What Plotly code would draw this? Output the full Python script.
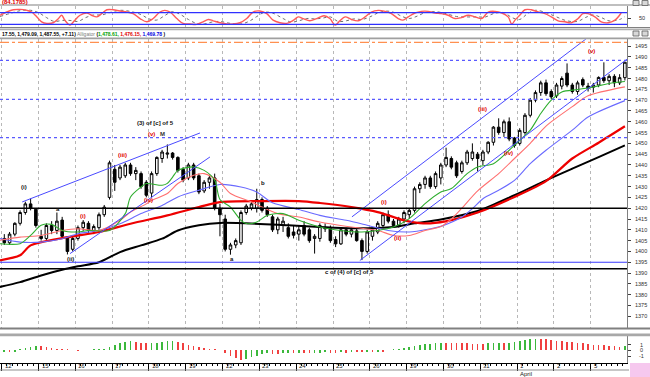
import plotly.graph_objects as go

W, H = 650, 377
PLOT_R = 627  # right edge of plotting area in px

def py(y):
    return 1 - y / H

# ---------------- data ----------------
day_labels = ["12", "15", "16", "17", "18", "19", "22", "23", "24", "25", "26",
              "29", "30", "31", "1", "2", "5"]
month_label = "April"
BARS_PER_DAY = 7

opens = [1406, 1404, 1408, 1413, 1418, 1422, 1419.5,
         1407, 1406, 1412, 1409.7, 1414.5, 1406.5, 1401,
         1406, 1411, 1413, 1409.5, 1411, 1417, 1425,
         1438, 1434, 1435, 1440, 1436, 1436, 1432,
         1427, 1436, 1443, 1445, 1445.5, 1443.5, 1438,
         1434, 1440, 1435, 1428, 1432, 1434, 1420,
         1415, 1401, 1403, 1404, 1418, 1420, 1420,
         1424, 1420, 1416, 1410, 1412, 1411, 1409,
         1408, 1412, 1410, 1406, 1406, 1411, 1411,
         1405.5, 1403.5, 1410, 1408, 1409.5, 1405, 1400,
         1407, 1409, 1412, 1417, 1414, 1412, 1415,
         1417, 1419, 1429, 1431, 1434, 1430, 1434,
         1440, 1443, 1441, 1437, 1441, 1443, 1445,
         1442, 1446, 1450.5, 1457.5, 1455, 1460, 1452.5,
         1450, 1455, 1463, 1470, 1473.5, 1478, 1474,
         1472, 1476.5, 1482.5, 1477, 1474, 1479.5, 1476.5,
         1476, 1477, 1480.5, 1479, 1481, 1478, 1480.4]
highs = [1408, 1409, 1413.5, 1419, 1423, 1424.5, 1420,
         1410, 1413, 1414, 1418, 1416, 1407, 1407,
         1412, 1414.5, 1414, 1412.5, 1418, 1421.5, 1442,
         1440, 1440, 1441, 1441, 1439, 1437, 1433,
         1437, 1444, 1447, 1449.5, 1446, 1444, 1439,
         1441, 1441, 1436, 1433, 1435.5, 1436, 1422,
         1417, 1404, 1406, 1419, 1422, 1423, 1429,
         1425, 1421, 1417, 1416, 1416, 1413, 1412,
         1412, 1414, 1411, 1408, 1413, 1413, 1412,
         1407, 1411, 1411, 1411, 1410.5, 1406, 1410,
         1411, 1414, 1418, 1419, 1415, 1416, 1419,
         1420, 1430, 1432, 1435, 1435, 1437, 1441,
         1448, 1444, 1442, 1442, 1447, 1450, 1446,
         1447, 1451, 1458, 1461.6, 1461, 1462, 1453,
         1457, 1464, 1471, 1474.5, 1479, 1479.5, 1475,
         1478, 1481, 1487, 1478, 1479, 1480.5, 1478,
         1478, 1481, 1487.5, 1482, 1482, 1482, 1487.6]
lows = [1403, 1403, 1407, 1412, 1417, 1419, 1411,
        1405, 1405, 1408, 1408, 1406.5, 1398.6, 1400,
        1405, 1409.5, 1408.5, 1408, 1410, 1416, 1424,
        1428, 1433, 1434, 1435, 1433, 1429, 1425,
        1425, 1435, 1441, 1443, 1442.5, 1436.5, 1432,
        1433, 1433, 1426.5, 1427, 1429, 1419, 1407,
        1400, 1398.5, 1401.5, 1403, 1417, 1419, 1418,
        1418, 1416, 1409, 1408, 1409, 1406, 1406,
        1405, 1407, 1404, 1399, 1404.5, 1409, 1404,
        1402, 1403, 1407, 1406.5, 1404.5, 1396, 1399,
        1405, 1408, 1411, 1413, 1411, 1411, 1413,
        1415, 1418, 1427, 1429, 1429, 1429, 1431,
        1439, 1438, 1434, 1436, 1440, 1442, 1437,
        1440, 1445, 1449, 1454, 1453, 1451, 1448,
        1449, 1454, 1462, 1469, 1472, 1472, 1470.5,
        1471, 1475, 1476, 1473, 1472.5, 1476, 1474,
        1473.5, 1476, 1478, 1477, 1476, 1477, 1479.1]
closes = [1404, 1408, 1413, 1418, 1422, 1420, 1412,
          1406, 1412, 1409.7, 1414, 1407, 1400, 1406,
          1411, 1413.5, 1409.7, 1411.5, 1417, 1420.5, 1441,
          1432, 1439, 1440, 1436, 1437.5, 1430, 1426,
          1436, 1443.5, 1446, 1445.5, 1443.5, 1437.5, 1433,
          1440, 1434, 1427.5, 1432, 1434, 1420, 1417,
          1401, 1403, 1405, 1418, 1421, 1422, 1424,
          1419, 1417, 1410, 1415, 1414, 1407, 1407.5,
          1410, 1408, 1405, 1407, 1412, 1410.5, 1405,
          1403.5, 1410, 1408, 1410, 1405, 1400, 1409,
          1410, 1413, 1417, 1414, 1412, 1415, 1418,
          1419, 1429, 1431, 1434, 1430, 1436, 1440,
          1443.5, 1439, 1435, 1441, 1446, 1446, 1443,
          1446, 1450.5, 1457.5, 1455, 1460, 1452, 1449,
          1456, 1463, 1470, 1473.5, 1478, 1473, 1471.5,
          1477, 1480, 1477, 1474, 1478, 1477, 1475.5,
          1477, 1480.5, 1479, 1481, 1478, 1480.4, 1487.55]

# Alligator lines (bar position, value)
lips = [(-1, 1403.6), (3, 1403.6), (5, 1407.4), (7, 1412.1), (9, 1412.5), (11, 1409.7),
        (14, 1409), (16, 1409.7), (20, 1409.7), (23, 1417.5), (24, 1425.2), (26, 1429.8),
        (27, 1431.4), (30, 1430.6), (31, 1431.5), (32, 1434.4), (33, 1437.5), (36, 1439.1),
        (38, 1437.5), (40, 1433), (41, 1424), (43, 1420.5), (45, 1414.4), (46, 1412.9),
        (48, 1413.6), (50, 1416.7), (53, 1417.5), (56, 1414.4), (60, 1411.3), (64, 1409.7),
        (68, 1409), (71, 1409.7), (74, 1411.3), (77, 1415.2), (80, 1422.1), (83, 1427.5),
        (85, 1429.1), (88, 1436), (90, 1439.1), (93, 1440.6), (96, 1446.8), (98, 1451.4),
        (100, 1456.1), (102, 1463.8), (104, 1470), (106, 1473.8), (109, 1474.9),
        (112, 1476.1), (115, 1477.7), (118, 1478.61)]
teeth = [(-1, 1405.1), (3, 1406.6), (7, 1407.4), (11, 1409.7), (14, 1410.5), (18, 1409.7),
         (22, 1414.4), (24, 1418.2), (27, 1422), (28, 1423.6), (31, 1426.8), (33, 1431.4),
         (36, 1435.2), (38, 1436), (41, 1432), (43, 1426.8), (47, 1422.9), (49, 1420.5),
         (52, 1417.5), (56, 1415.9), (60, 1413.6), (66, 1411.3), (71, 1409.7), (74, 1407.4),
         (77, 1407.4), (80, 1409.7), (83, 1411.5), (85, 1415), (87, 1420), (90, 1428),
         (94, 1436), (97, 1443), (100, 1450), (103, 1458), (108, 1467), (111, 1472),
         (118, 1476.15)]
jaw = [(-1, 1406), (3, 1404.3), (7, 1404.3), (11, 1405.9), (14, 1408.2), (18, 1409.7),
       (22, 1412.8), (26, 1417.5), (30, 1421.3), (33, 1425.2), (37, 1428.3), (41, 1431),
       (45, 1429.8), (48, 1427.5), (51, 1422.5), (56, 1419.4), (60, 1416.7), (65, 1414.4),
       (69, 1412.1), (73, 1409.7), (77, 1409), (81, 1410.5), (83, 1411.6), (87, 1415.9),
       (89, 1419.8), (91, 1424.4), (94, 1428.3), (97, 1432.9), (100, 1440.6),
       (103, 1446.8), (108, 1456.1), (111, 1462.2), (118, 1469.78)]
ma_red = [(-1, 1395.8), (3, 1398.2), (5, 1402.8), (12, 1406.6), (18, 1409), (24, 1412.8),
          (31, 1416.7), (37, 1420.5), (41, 1422.8), (49, 1423.3), (56, 1423.3), (60, 1422.4),
          (66, 1420.5), (71, 1418.2), (76, 1414.4), (79, 1413.1), (81, 1413), (85, 1414.5),
          (90, 1418), (97, 1425.2), (103, 1432.5), (108, 1443), (113, 1450.3), (118, 1457.9)]
ma_black = [(-1, 1383.5), (3, 1385.8), (7, 1388.9), (11, 1391.5), (14, 1393.1), (18, 1395),
            (22, 1399.7), (26, 1402.8), (30, 1405.9), (33, 1409.7), (37, 1412.1), (41, 1413.2),
            (54, 1412.1), (60, 1411.3), (66, 1410.7), (74, 1411.3), (78, 1413), (83, 1414.8),
            (90, 1418.7), (97, 1426), (103, 1432.9), (108, 1438.3), (113, 1443.6),
            (118, 1449.1)]

# Stochastic %K / %D (bar position, value)
stoch_k = [(-0.8, 66.5), (0.45, 83.2), (1.7, 94.8), (3.0, 96.5), (4.3, 91.5), (5.2, 83.2),
           (6.2, 58.2), (7.1, 33.2), (8.1, 24.8), (9.3, 28.2), (10.3, 49.8), (10.9, 66.5),
           (11.5, 41.5), (12.5, 16.5), (13.4, 41.5), (14.4, 66.5), (15.7, 78.2), (16.6, 66.5),
           (17.6, 58.2), (18.5, 74.8), (19.5, 94.8), (20.7, 94.8), (22.0, 88.2), (23.3, 83.2),
           (24.5, 74.8), (25.8, 49.8), (27.1, 33.2), (28.3, 49.8), (29.6, 83.2), (30.5, 91.5),
           (31.5, 83.2), (32.8, 49.8), (34.0, 24.8), (35.3, 21.5), (36.6, 19.8), (37.8, 33.2),
           (38.8, 44.8), (39.7, 38.2), (41.0, 28.2), (42.3, 21.5), (43.5, 21.5), (44.8, 28.2),
           (46.1, 49.8), (47.3, 83.2), (48.6, 88.2), (49.9, 74.8), (51.1, 41.5), (52.4, 28.2),
           (53.7, 24.8), (55.0, 41.5), (55.9, 58.2), (56.8, 49.8), (58.1, 38.2), (59.4, 49.8),
           (60.8, 64.0), (61.9, 49.8), (62.9, 16.5), (63.8, 38.2), (64.8, 58.2), (66.0, 44.8),
           (67.3, 38.2), (68.6, 58.2), (69.8, 83.2), (71.1, 91.5), (72.4, 86.5), (73.6, 74.8),
           (74.9, 49.8), (75.8, 41.5), (76.8, 58.2), (78.1, 78.2), (79.3, 86.5), (80.6, 86.5),
           (81.9, 78.2), (83.1, 74.8), (84.4, 66.5), (85.7, 49.8), (86.9, 54.8), (88.2, 66.5),
           (89.5, 58.2), (90.8, 49.8), (92.0, 83.2), (93.3, 86.5), (94.6, 78.2), (95.8, 58.2),
           (96.5, 21.5), (97.1, 41.5), (98.0, 66.5), (99.0, 94.8), (100.2, 94.8), (101.5, 83.2),
           (102.8, 74.8), (104.0, 58.2), (105.3, 38.2), (106.6, 33.2), (107.8, 28.2),
           (109.1, 49.8), (110.0, 74.8), (111.0, 74.8), (112.3, 58.2), (113.5, 33.2),
           (114.8, 28.2), (116.1, 41.5), (117.3, 78.2)]
stoch_d = [(-0.8, 60), (1, 75), (3, 90), (5, 92), (6.5, 80), (8, 55), (9.5, 35), (11, 40),
           (12.5, 40), (14, 35), (15.5, 55), (17, 68), (18.5, 68), (20, 80), (22, 92), (24, 86),
           (26, 70), (27.5, 48), (29, 42), (30.5, 65), (32, 85), (33.5, 70), (35, 45),
           (36.5, 25), (38, 22), (39.5, 32), (41, 35), (43, 25), (45, 22), (46.5, 35), (48, 60),
           (49.5, 82), (51, 78), (53, 50), (54.5, 32), (56, 38), (57.5, 50), (59, 48),
           (60.5, 52), (62, 58), (63.5, 35), (65, 38), (66.5, 48), (68, 45), (69.5, 58),
           (71, 78), (72.5, 88), (74, 82), (75.5, 62), (77, 50), (78.5, 62), (80, 80), (82, 85),
           (84, 75), (86, 60), (88, 58), (90, 58), (91.5, 58), (93, 75), (95, 80), (96.5, 55),
           (98, 45), (99.5, 75), (101, 92), (103, 80), (105, 58), (107, 38), (109, 35),
           (110.5, 55), (112, 68), (113.5, 55), (115, 38), (117, 45), (118, 60)]

# oscillator histogram, one value per bar
osc = [-0.3, -0.32, -0.2, 0.2, 0.4, 0.6, 0.8,
       0.7, 0.5, 0.35, 0.25, 0.2, 0.15, 0.05,
       -0.1, 0.1, 0.12, 0.15, 0.2, 0.3, 0.5,
       0.9, 1.2, 1.5, 1.6, 1.5, 1.35, 1.2,
       1.25, 1.35, 1.45, 1.55, 1.6, 1.5, 1.3,
       1.0, 0.8, 0.55, 0.4, 0.25, 0.15, 0.05,
       -0.5, -1.0, -1.4, -1.6, -1.5, -1.2, -0.9,
       -0.6, -0.5, -0.55, -0.6, -0.5, -0.45, -0.5,
       -0.4, -0.45, -0.5, -0.45, -0.4, -0.35, -0.38,
       -0.4, -0.35, -0.37, -0.3, -0.32, -0.34, -0.3,
       -0.32, -0.25, -0.27, 0.1, 0.2, 0.3, 0.45,
       0.6, 0.8, 0.95, 1.05, 1.15, 1.25, 1.35,
       1.3, 1.28, 1.25, 1.22, 1.2, 1.18, 1.15,
       1.12, 1.2, 1.3, 1.35, 1.3, 1.35, 1.5,
       1.65, 1.8, 1.95, 2.0, 1.95, 1.9, 1.8,
       1.7, 1.6, 1.5, 1.4, 1.3, 1.2, 1.1,
       1.0, 0.9, 0.85, 0.8, 0.7, 0.65, 0.7]

price_ticks = list(range(1370, 1500, 5))

levels_black = [1420, 1392]
level_blue = 1395
levels_dotted = [1488.4, 1470.4, 1452.7]
level_orange = 1496.7
stoch_levels = [80, 20]

channel_lines = [((3.4, 1422.9), (37.2, 1454.8)),
                 ((12.5, 1399.0), (39.1, 1443.7)),
                 ((66.1, 1416.0), (111.4, 1499.8)),
                 ((67.6, 1395.8), (118.6, 1489.3))]

wave_labels = [("(3) of [c] of 5", 28.8, 1459.3, "#111111"),
               ("(v)", 28.0, 1454.2, "#e00000"),
               ("M", 30.0, 1454.2, "#333333"),
               ("(iii)", 22.4, 1444.5, "#e00000"),
               ("(iv)", 27.5, 1423.6, "#e00000"),
               ("(i)", 3.7, 1429.7, "#111111"),
               ("a", 10.2, 1419.8, "#111111"),
               ("(i)", 15.0, 1416.2, "#e00000"),
               ("(ii)", 12.5, 1396.3, "#111111"),
               ("b", 49.2, 1431.5, "#111111"),
               ("a", 43.3, 1396.3, "#111111"),
               ("c of (4) of [c] of 5", 65.7, 1390.7, "#111111"),
               ("(i)", 72.2, 1422.7, "#e00000"),
               ("(ii)", 74.7, 1406.0, "#e00000"),
               ("(iii)", 91.0, 1465.8, "#e00000"),
               ("(iv)", 95.8, 1445.4, "#e00000"),
               ("(v)", 111.7, 1492.7, "#e00000")]

# ---------------- figure ----------------
n = len(closes)
bar_x = list(range(n))
XR = [-0.82, 118.4]
day_ticks = [BARS_PER_DAY * d - 0.5 for d in range(len(day_labels))]
XD = [0, PLOT_R / W]
FONT = "Liberation Sans"

fig = go.Figure()

def xy(pairs):
    return [p[0] for p in pairs], [p[1] for p in pairs]

# stochastic panel
kx, ky = xy(stoch_d)
fig.add_trace(go.Scatter(x=kx, y=ky, mode="lines", xaxis="x", yaxis="y",
                         line=dict(color="#707070", width=1, dash="dot", shape="spline")))
kx, ky = xy(stoch_k)
fig.add_trace(go.Scatter(x=kx, y=ky, mode="lines", xaxis="x", yaxis="y",
                         line=dict(color="#ff5a5a", width=1.4, shape="spline")))

# main candles
fig.add_trace(go.Candlestick(x=bar_x, open=opens, high=highs, low=lows, close=closes,
                             xaxis="x2", yaxis="y2", whiskerwidth=0,
                             increasing=dict(line=dict(color="#000000", width=1), fillcolor="#ffffff"),
                             decreasing=dict(line=dict(color="#000000", width=1), fillcolor="#000000")))

for pairs, col, wid in [(ma_black, "#000000", 2), (ma_red, "#ee0000", 2.2),
                        (jaw, "#6a6aff", 1.1), (teeth, "#ff7070", 1.1), (lips, "#2fae2f", 1.1)]:
    lx, ly = xy(pairs)
    fig.add_trace(go.Scatter(x=lx, y=ly, mode="lines", xaxis="x2", yaxis="y2",
                             line=dict(color=col, width=wid, shape="spline", smoothing=0.8)))

for (x0, y0), (x1, y1) in channel_lines:
    fig.add_trace(go.Scatter(x=[x0, x1], y=[y0, y1], mode="lines", xaxis="x2", yaxis="y2",
                             line=dict(color="#4a4aff", width=1)))

# oscillator histogram
colors = []
for i, v in enumerate(osc):
    prev = osc[i - 1] if i > 0 else v
    colors.append("#3cb83c" if v >= prev else "#f04040")
fig.add_trace(go.Bar(x=bar_x, y=osc, xaxis="x3", yaxis="y3", width=0.32,
                     marker=dict(color=colors, line=dict(width=0))))

shapes = []
for lv in levels_black:
    shapes.append(dict(type="line", xref="paper", yref="y2", x0=0, x1=PLOT_R / W, y0=lv, y1=lv,
                       line=dict(color="#000000", width=1.6)))
shapes.append(dict(type="line", xref="paper", yref="y2", x0=0, x1=PLOT_R / W,
                   y0=level_blue, y1=level_blue, line=dict(color="#3a3aff", width=1.2)))
for lv in levels_dotted:
    shapes.append(dict(type="line", xref="paper", yref="y2", x0=0, x1=PLOT_R / W, y0=lv, y1=lv,
                       line=dict(color="#5a5aff", width=1.2, dash="dot")))
shapes.append(dict(type="line", xref="paper", yref="y2", x0=0, x1=PLOT_R / W,
                   y0=level_orange, y1=level_orange,
                   line=dict(color="#ff9050", width=1.2, dash="dashdot")))
for lv in stoch_levels:
    shapes.append(dict(type="line", xref="paper", yref="y", x0=0, x1=PLOT_R / W, y0=lv, y1=lv,
                       line=dict(color="#3030ff", width=1.4)))

# frame / separators (pixel geometry)
def hband(y0, y1, color, x0=0, x1=W):
    shapes.append(dict(type="rect", xref="paper", yref="paper", x0=x0 / W, x1=x1 / W,
                       y0=py(y1), y1=py(y0), fillcolor=color, line=dict(width=0), layer="above"))

hband(4.5, 5.5, "#808080")
hband(27, 28, "#808080")
hband(28.5, 30.2, "#b0b0b0")
hband(37.6, 39.2, "#a0a0a0")
hband(327.5, 329.5, "#808080")
hband(333.5, 336.2, "#a8a8a8")
hband(369.4, 370.4, "#909090", 0, PLOT_R + 2)
hband(363, 377, "#f6c8ee", PLOT_R + 3, W)
# small window icons
for yy in (0.5, 31):
    for xx in (633, 642):
        shapes.append(dict(type="rect", xref="paper", yref="paper", x0=xx / W, x1=(xx + 6) / W,
                           y0=py(yy + 5), y1=py(yy), fillcolor="#d8d8d8",
                           line=dict(color="#606060", width=0.8)))

annotations = []
annotations.append(dict(text="<b>(84.1785)</b>", x=0, y=py(2.5), xref="paper", yref="paper",
                        xanchor="left", yanchor="middle", showarrow=False,
                        font=dict(family=FONT, size=6, color="#e00000")))
header = ("<b>17.55, 1,479.09, 1,487.55, +7.11)</b> "
          "<span style='color:#808080'>Alligator</span> <b>("
          "<span style='color:#00a000'>1,478.61,</span> "
          "<span style='color:#e00000'>1,476.15,</span> "
          "<span style='color:#0000e0'>1,469.78</span> )</b>")
annotations.append(dict(text=header, x=0, y=py(33.5), xref="paper", yref="paper",
                        xanchor="left", yanchor="middle", showarrow=False,
                        font=dict(family=FONT, size=5, color="#000000")))
for txt, lx, ly, col in wave_labels:
    annotations.append(dict(text="<b>" + txt + "</b>", x=lx, y=ly, xref="x2", yref="y2",
                            showarrow=False, xanchor="center", yanchor="middle",
                            font=dict(family=FONT, size=6, color=col)))
for tv, lab in zip(day_ticks, day_labels):
    annotations.append(dict(text=lab, x=tv + 0.2, y=py(366.3), xref="x3", yref="paper",
                            xanchor="left", yanchor="middle", showarrow=False,
                            font=dict(family=FONT, size=6, color="#202020")))
annotations.append(dict(text=month_label, x=day_ticks[14] + 0.2, y=py(374), xref="x3",
                        yref="paper", xanchor="left", yanchor="middle", showarrow=False,
                        font=dict(family=FONT, size=6, color="#202020")))
# right-hand value labels (placed just right of the axis line)
LX = (PLOT_R + 6) / W
for pt in price_ticks:
    annotations.append(dict(text=str(pt), x=LX, y=pt, xref="paper", yref="y2",
                            xanchor="left", yanchor="middle", showarrow=False,
                            font=dict(family=FONT, size=5.5, color="#303030")))
annotations.append(dict(text="50", x=(PLOT_R + 10) / W, y=50, xref="paper", yref="y",
                        xanchor="left", yanchor="middle", showarrow=False,
                        font=dict(family=FONT, size=5.5, color="#303030")))
for v, t in [(1, "1"), (0, "0"), (-1, "-1")]:
    annotations.append(dict(text=t, x=(PLOT_R + 14) / W, y=v, xref="paper", yref="y3",
                            xanchor="center", yanchor="middle", showarrow=False,
                            font=dict(family=FONT, size=5.5, color="#303030")))

grid = dict(showgrid=True, gridcolor="#b8b8b8", griddash="dot", gridwidth=1,
            tickvals=day_ticks, showticklabels=False, ticks="", zeroline=False,
            showline=False, range=XR, domain=XD, fixedrange=True)

yax_common = dict(side="right", showticklabels=False, ticks="outside", ticklen=3,
                  tickcolor="#404040", showgrid=False, zeroline=False, showline=True,
                  linecolor="#808080")

fig.update_layout(
    width=W, height=H, margin=dict(l=0, r=0, t=0, b=0),
    paper_bgcolor="white", plot_bgcolor="white", showlegend=False,
    font=dict(family=FONT, size=6, color="#202020"),
    xaxis=dict(anchor="y", **grid),
    xaxis2=dict(anchor="y2", matches="x", rangeslider=dict(visible=False), **grid),
    xaxis3=dict(anchor="y3", matches="x", range=XR, domain=XD, showgrid=False,
                tickvals=day_ticks, ticks="outside", ticklen=7, tickcolor="#000000",
                showticklabels=False, zeroline=False, showline=True, linecolor="#000000",
                linewidth=1,
                minor=dict(tick0=-0.5, dtick=1, ticks="outside", ticklen=2,
                           tickcolor="#000000", showgrid=False)),
    yaxis=dict(domain=[py(27), py(5.5)], range=[6.5, 116.5], tickvals=[50], **yax_common),
    yaxis2=dict(domain=[py(327.5), py(39.2)], range=[1364.8, 1498.2],
                tickvals=price_ticks, **yax_common),
    yaxis3=dict(domain=[py(362.5), py(336.2)], range=[-2.1, 2.45],
                tickvals=[1, 0, -1], **yax_common),
    bargap=0,
    shapes=shapes,
    annotations=annotations,
)

fig.write_html("out.html",
               config={"displayModeBar": False, "staticPlot": True},
               post_script="document.body.style.margin='0px';"
                           "document.body.style.overflow='hidden';")
